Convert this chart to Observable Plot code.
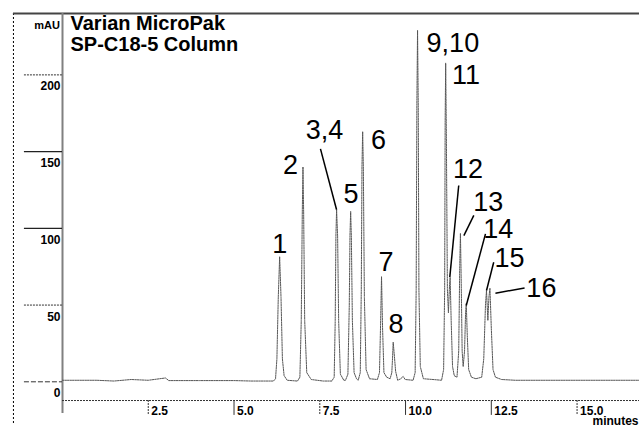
<!DOCTYPE html>
<html>
<head>
<meta charset="utf-8">
<script src="https://cdn.jsdelivr.net/npm/d3@7"></script>
<script src="https://cdn.jsdelivr.net/npm/@observablehq/plot@0.6"></script>
<style>
  html, body { margin: 0; padding: 0; background: white; overflow: hidden; }
</style>
</head>
<body>
<div id="chart"></div>
<script>
// ---- data ----
const titleLines = ["Varian MicroPak", "SP-C18-5 Column"];
const yUnit = "mAU";
const xUnit = "minutes";

const yTicks = [0, 50, 100, 150, 200];
const yTickLabels = ["0", "50", "100", "150", "200"];
const xTicks = [2.5, 5, 7.5, 10, 12.5, 15];
const xTickLabels = ["2.5", "5.0", "7.5", "10.0", "12.5", "15.0"];

// detector trace: retention time (min) and signal (mAU)
const traceTime = [
  0, 1.0, 1.5, 2.0, 2.5, 3.0, 3.1, 4.0, 5.0, 5.5,
  6.15, 6.21, 6.25, 6.29, 6.33, 6.37, 6.41, 6.46, 6.55,
  6.85, 6.92, 6.96, 6.99, 7.01, 7.03, 7.06, 7.12, 7.25, 7.6,
  7.85, 7.92, 7.95, 7.97, 7.99, 8.02, 8.05, 8.10, 8.20,
  8.25, 8.32, 8.36, 8.38, 8.40, 8.42, 8.45, 8.50, 8.57,
  8.62, 8.68, 8.71, 8.73, 8.75, 8.77, 8.80, 8.85, 8.95,
  9.18, 9.24, 9.27, 9.30, 9.33, 9.37, 9.45,
  9.55, 9.60, 9.62, 9.64, 9.67, 9.71, 9.77, 9.86, 9.93, 9.99,
  10.22, 10.28, 10.31, 10.33, 10.35, 10.37, 10.39, 10.43, 10.52, 10.8,
  11.05, 11.11, 11.14, 11.155, 11.17, 11.19, 11.22, 11.25, 11.28, 11.30, 11.33, 11.37, 11.42,
  11.50, 11.55, 11.58, 11.60, 11.62, 11.65, 11.68,
  11.72, 11.75, 11.77, 11.80, 11.84, 11.92, 12.05,
  12.22, 12.28, 12.33, 12.36, 12.40, 12.43, 12.46, 12.50, 12.55, 12.62, 12.80, 13.2, 16.82
];
const traceSignal = [
  1, 1, 0.5, 1.5, 1, 2.5, 0.8, 0.8, 0.8, 0.5,
  0.5, 2, 15, 55, 81.5, 55, 15, 4, 1,
  0.5, 3, 40, 110, 140, 110, 40, 6, 1.5, 0.5,
  0.5, 3, 40, 95, 112, 95, 40, 5, 1,
  1, 5, 50, 95, 111, 95, 40, 6, 2,
  1, 6, 60, 140, 163, 140, 55, 8, 2,
  1.5, 6, 35, 68.5, 35, 6, 3,
  2, 6, 15, 25.8, 18, 7, 1, 2, 3.5, 1.5,
  1, 6, 60, 180, 229, 180, 60, 10, 2, 1.5,
  1, 8, 60, 170, 207.6, 160, 60, 45, 62, 68, 40, 10, 4,
  3, 20, 75, 96.7, 70, 20, 10,
  20, 45, 51, 30, 8, 3, 2,
  3, 15, 50, 59.5, 40, 55, 61, 35, 8, 3, 1.5, 1, 1
];

// peak labels
const labelText = ["1", "2", "3,4", "5", "6", "7", "8", "9,10", "11", "12", "13", "14", "15", "16"];
const labelTime = [6.33, 6.65, 7.64, 8.41, 9.21, 9.43, 9.72, 11.38, 11.76, 11.82, 12.41, 12.70, 13.03, 13.96];
const labelSignal = [84.2, 135.1, 158.5, 116.2, 152.0, 72.5, 31.5, 214.8, 194.3, 133.1, 111.6, 93.4, 74.5, 55.0];

// leader lines from labels to peaks
const leaderLabel = ["3,4", "12", "13", "14", "15", "16"];
const leaderTime1 = [7.52, 11.55, 11.99, 12.33, 12.57, 12.62];
const leaderSignal1 = [151.8, 127.9, 108.4, 96.4, 77.9, 57.7];
const leaderTime2 = [7.99, 11.29, 11.70, 11.77, 12.36, 13.47];
const leaderSignal2 = [112.1, 68.2, 95.3, 49.7, 59.5, 61.2];

// ---- build tables ----
const trace = traceTime.map((t, i) => ({t, v: traceSignal[i]}));
const labels = labelText.map((s, i) => ({s, t: labelTime[i], v: labelSignal[i]}));
const leaders = leaderLabel.map((s, i) => ({
  s, t1: leaderTime1[i], v1: leaderSignal1[i], t2: leaderTime2[i], v2: leaderSignal2[i]
}));
const yT = yTicks.map((v, i) => ({v, s: yTickLabels[i]}));
const xT = xTicks.map((t, i) => ({t, s: xTickLabels[i]}));

// frame geometry in data units
const X0 = 0, X1 = 16.82;      // x domain
const Y0 = -20, Y1 = 240;      // y domain
const outerX = -1.43;          // outer dashed frame line
const tickLeft = -1.11;        // left end of y tick lines
const xAxisV = -12.2;          // dotted time axis
const xTickBottom = -21.9;

const font = "'Liberation Sans', Arial, Helvetica, sans-serif";

const chart = Plot.plot({
  width: 639,
  height: 425,
  marginLeft: 62,
  marginRight: 0,
  marginTop: 13,
  marginBottom: 13,
  x: {domain: [X0, X1], axis: null},
  y: {domain: [Y0, Y1], axis: null},
  style: {fontFamily: font, background: "white", color: "black"},
  marks: [
    // outer dashed frame line
    Plot.ruleX([outerX], {y1: Y1, y2: -30, stroke: "#000", strokeWidth: 1, strokeDasharray: "2,2"}),
    // top frame line
    Plot.ruleY([Y1], {x1: outerX, x2: X1, stroke: "#444", strokeWidth: 2}),
    // y axis line
    Plot.ruleX([0], {y1: Y1, y2: -20.7, stroke: "#808080", strokeWidth: 2}),
    // y tick lines
    Plot.ruleY(yT.filter(d => d.v === 100 || d.v === 150), {y: "v", x1: tickLeft, x2: 0, stroke: "#222", strokeWidth: 1.2}),
    Plot.ruleY(yT.filter(d => d.v === 50 || d.v === 200), {y: "v", x1: tickLeft, x2: 0, stroke: "#333", strokeWidth: 1, strokeDasharray: "2,1"}),
    Plot.ruleY(yT.filter(d => d.v === 0), {y: "v", x1: tickLeft, x2: 0, stroke: "#333", strokeWidth: 1, strokeDasharray: "5,2"}),
    Plot.text(yT, {x: 0, y: "v", text: "s", textAnchor: "end", lineAnchor: "bottom", dx: -2, dy: 15.5,
      fontSize: 12, fontWeight: "bold", fill: "#000"}),
    Plot.text([yUnit], {x: 0, y: 230.2, text: d => d, textAnchor: "end", lineAnchor: "bottom", dx: -2.5,
      fontSize: 11, fontWeight: "bold", fill: "#000"}),
    // x axis dotted line and ticks
    Plot.ruleY([xAxisV], {x1: 0, x2: X1, stroke: "#333", strokeWidth: 1, strokeDasharray: "2,1"}),
    Plot.ruleX(xT.filter(d => d.t === 5 || d.t === 10 || d.t === 12.5), {x: "t", y1: xAxisV, y2: xTickBottom, stroke: "#333", strokeWidth: 1}),
    Plot.ruleX(xT.filter(d => !(d.t === 5 || d.t === 10 || d.t === 12.5)), {x: "t", y1: xAxisV, y2: xTickBottom, stroke: "#333", strokeWidth: 1, strokeDasharray: "2,1"}),
    Plot.text(xT, {x: "t", y: xTickBottom, text: "s", textAnchor: "start", lineAnchor: "bottom", dx: 3, dy: 0,
      fontSize: 12, fontWeight: "bold", fill: "#000"}),
    Plot.text([xUnit], {x: 15.45, y: -28.8, text: d => d, textAnchor: "start", lineAnchor: "bottom", dy: -1.5,
      fontSize: 12, fontWeight: "bold", fill: "#000"}),
    // title
    Plot.text(titleLines, {x: 0.233, y: (d, i) => [229.2, 215.7][i], text: d => d, textAnchor: "start", lineAnchor: "bottom",
      fontSize: 20, fontWeight: "bold", fill: "#000"}),
    // chromatogram trace
    Plot.line(trace, {x: "t", y: "v", stroke: "#555", strokeWidth: 1, strokeDasharray: "1.5,1"}),
    // leaders
    Plot.link(leaders, {x1: "t1", y1: "v1", x2: "t2", y2: "v2", stroke: "#000", strokeWidth: 1.5}),
    // peak labels
    Plot.text(labels, {x: "t", y: "v", text: "s", textAnchor: "middle", lineAnchor: "bottom",
      fontSize: 27, fill: "#000"})
  ]
});
document.getElementById("chart").appendChild(chart);
</script>
</body>
</html>
